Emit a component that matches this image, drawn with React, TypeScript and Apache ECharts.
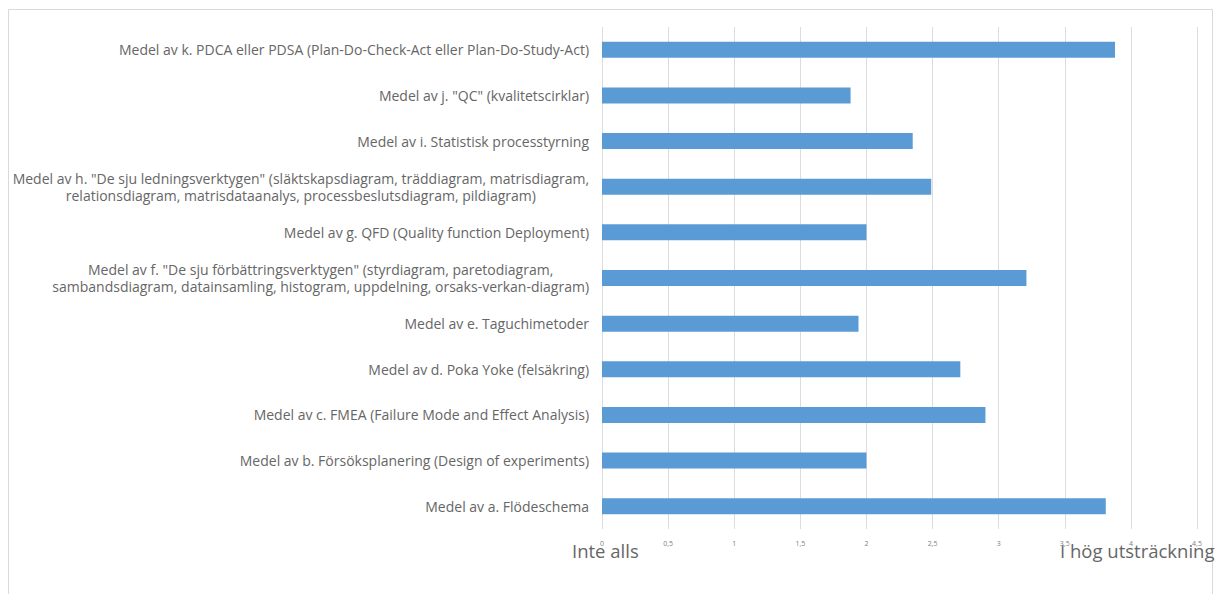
import React, { useEffect, useRef } from "react";
import * as echarts from "echarts";

const categories: string[] = [
  "Medel av a. Flödeschema",
  "Medel av b. Försöksplanering (Design of experiments)",
  "Medel av c. FMEA (Failure Mode and Effect Analysis)",
  "Medel av d. Poka Yoke (felsäkring)",
  "Medel av e. Taguchimetoder",
  "Medel av f. \"De sju förbättringsverktygen\" (styrdiagram, paretodiagram,\nsambandsdiagram, datainsamling, histogram, uppdelning, orsaks-verkan-diagram)",
  "Medel av g. QFD (Quality function Deployment)",
  "Medel av h. \"De sju ledningsverktygen\" (släktskapsdiagram, träddiagram, matrisdiagram,\nrelationsdiagram, matrisdataanalys, processbeslutsdiagram, pildiagram)",
  "Medel av i. Statistisk processtyrning",
  "Medel av j. \"QC\" (kvalitetscirklar)",
  "Medel av k. PDCA eller PDSA (Plan-Do-Check-Act eller Plan-Do-Study-Act)",
];

const values: number[] = [3.81, 2.0, 2.9, 2.71, 1.94, 3.21, 2.0, 2.49, 2.35, 1.88, 3.88];

const axisMin = 0;
const axisMax = 4.5;
const axisInterval = 0.5;

const lowLabel = "Inte alls";
const highLabel = "I hög utsträckning";

export default function App() {
  const ref = useRef<HTMLDivElement>(null);

  useEffect(() => {
    if (!ref.current) return;
    const chart = echarts.init(ref.current, null, { renderer: "svg" });
    chart.setOption({
      animation: false,
      backgroundColor: "#ffffff",
      grid: { left: 602, right: 21, top: 27, bottom: 65, containLabel: false },
      xAxis: {
        type: "value",
        min: axisMin,
        max: axisMax,
        interval: axisInterval,
        axisLine: { show: false },
        axisTick: { show: false },
        splitLine: { show: true, lineStyle: { color: "#dcdcdc", width: 1 } },
        axisLabel: {
          fontSize: 7,
          color: "#808080",
          fontFamily: "Open Sans",
          margin: 11,
          formatter: (v: number) => String(v).replace(".", ","),
        },
      },
      yAxis: {
        type: "category",
        data: categories,
        axisLine: { show: false },
        axisTick: { show: false },
        axisLabel: {
          margin: 13,
          fontSize: 14,
          color: "#666666",
          fontFamily: "Open Sans",
          lineHeight: 17,
          formatter: (v: string) =>
            v
              .split("\n")
              .map((l) => `{c|${l}}`)
              .join("\n"),
          rich: {
            c: {
              fontSize: 14,
              color: "#666666",
              fontFamily: "Open Sans",
              lineHeight: 17,
              align: "center",
            },
          },
        },
      },
      series: [
        {
          type: "bar",
          data: values,
          barWidth: 16,
          itemStyle: { color: "#5b9bd5" },
        },
      ],
      graphic: [
        {
          type: "rect",
          shape: { x: 8.5, y: 9.5, width: 1204, height: 600 },
          style: { fill: "none", stroke: "#d9d9d9", lineWidth: 1 },
          silent: true,
          z: -1,
        },
        {
          type: "text",
          left: 572,
          top: 541,
          style: {
            text: lowLabel,
            fontSize: 18.5,
            fill: "#666666",
            fontFamily: "Open Sans",
          },
        },
        {
          type: "text",
          left: 1060,
          top: 541,
          style: {
            text: highLabel,
            fontSize: 18.5,
            fill: "#666666",
            fontFamily: "Open Sans",
          },
        },
      ],
    });
    return () => chart.dispose();
  }, []);

  return (
    <div
      ref={ref}
      style={{ position: "fixed", left: 0, top: 0, width: 1218, height: 594 }}
    />
  );
}
